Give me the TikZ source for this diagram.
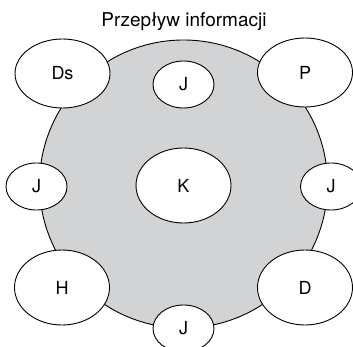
\documentclass[tikz,border=0pt]{standalone}
\usepackage{fontspec}
\setmainfont{TeX Gyre Heros}
\usetikzlibrary{shapes.geometric}
\definecolor{discgray}{RGB}{209,211,212}
\begin{document}
\begin{tikzpicture}[x=1pt,y=-1pt,
  role/.style={ellipse, draw=black, fill=white, line width=0.9pt, inner sep=0pt,
    font=\fontsize{18}{21}\selectfont},
  big/.style={role, minimum width=95pt, minimum height=69pt},
  small/.style={role, minimum width=61pt, minimum height=47pt}]
\useasboundingbox (0,0) rectangle (353,347);
\clip (0,0) rectangle (353,347);
\fill[white] (0,0) rectangle (353,347);
\node[circle, draw=black, fill=discgray, line width=0.9pt, minimum size=288pt, inner sep=0pt] (disc) at (183.5,184) {};
\node[anchor=base, font=\fontsize{19}{22}\selectfont] (title) at (184,26.5) {Przepływ informacji};
\node[big] (ds) at (62.5,73.5) {Ds};
\node[big] (p) at (305,72.5) {P};
\node[big, minimum height=75pt] (h) at (62,287.5) {H};
\node[big, minimum height=75pt] (d) at (305,287.5) {D};
\node[role, minimum width=95pt, minimum height=75pt] (k) at (183.5,185.5) {K};
\node[small] (jt) at (183.5,84.5) {J};
\node[small] (jl) at (36.5,186.5) {J};
\node[small] (jr) at (331,186.5) {J};
\node[small] (jb) at (183.5,328.5) {J};
\end{tikzpicture}
\end{document}
